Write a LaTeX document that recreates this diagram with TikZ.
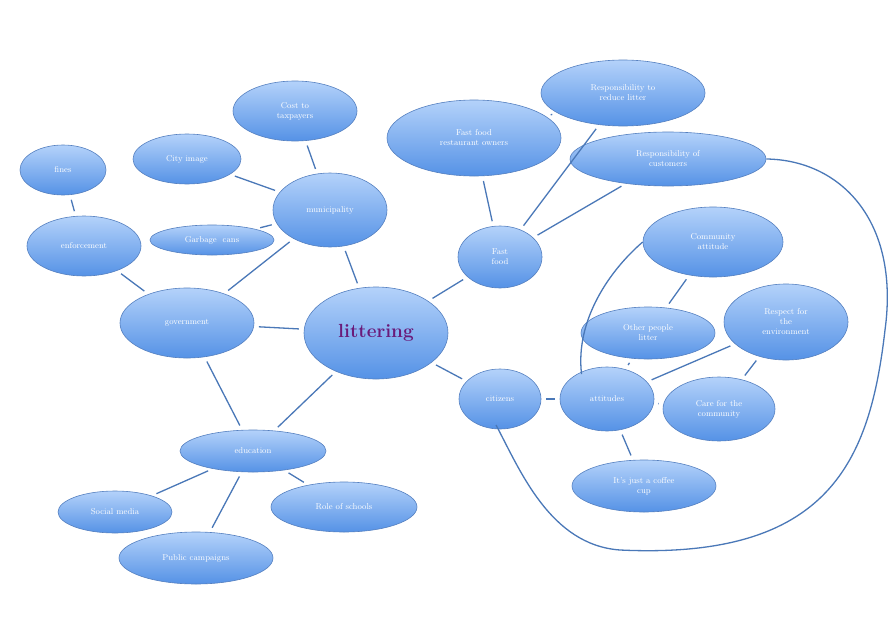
\documentclass[tikz,border=0pt]{standalone}
\usetikzlibrary{shapes.geometric}
\definecolor{topc}{HTML}{B4D2FA}
\definecolor{botc}{HTML}{5592E6}
\definecolor{edgec}{HTML}{5580C0}
\definecolor{linec}{HTML}{4A78B8}
\definecolor{purp}{HTML}{6A1B7A}
\tikzset{
  bub/.style={ellipse,draw=edgec,line width=0.6pt,top color=topc,bottom color=botc,
    inner sep=0pt,text=white,align=center,font=\fontsize{8.5}{10}\selectfont},
  link/.style={draw=linec,line width=1.3pt,shorten >=5pt,shorten <=5pt}
}
\newcommand\E[6]{\node[bub,minimum width=#4pt,minimum height=#5pt] (#1) at (#2,#3) {#6};}
\begin{document}
\begin{tikzpicture}[x=1pt,y=-1pt]
\useasboundingbox (0,0) rectangle (896,621);
\fill[white] (0,0) rectangle (896,621);
\E{fines}{63}{170}{86}{50}{fines}
\E{enf}{84}{246}{114}{60}{enforcement}
\E{gov}{187}{323}{134}{70}{government}
\E{city}{187}{159}{108}{50}{City image}
\E{cost}{295}{111}{124}{60}{Cost to\\taxpayers}
\E{mun}{330}{210}{114}{74}{municipality}
\E{garb}{212}{240}{124}{30}{Garbage\ \ cans}
\node[bub,minimum width=144pt,minimum height=92pt,text=purp,font=\fontsize{19}{22}\selectfont\bfseries] (lit) at (376,333) {littering};
\E{edu}{253}{451}{146}{42}{education}
\E{soc}{115}{512}{114}{42}{Social media}
\E{pub}{196}{558}{154}{52}{Public campaigns}
\E{role}{344}{507}{146}{50}{Role of schools}
\E{ffo}{474}{138}{174}{76}{Fast food\\restaurant owners}
\E{rrl}{623}{93}{164}{66}{Responsibility to\\reduce litter}
\E{roc}{668}{159}{196}{54}{Responsibility of\\customers}
\E{ff}{500}{257}{84}{62}{Fast\\food}
\E{ca}{713}{242}{140}{70}{Community\\attitude}
\E{opl}{648}{333}{134}{52}{Other people\\litter}
\E{rfe}{786}{322}{124}{76}{Respect for\\the\\environment}
\E{cit}{500}{399}{82}{60}{citizens}
\E{att}{607}{399}{94}{64}{attitudes}
\E{cfc}{719}{409}{112}{64}{Care for the\\community}
\E{cup}{644}{486}{144}{52}{It's just a coffee\\cup}
\draw[link] (fines) -- (enf);
\draw[link] (enf) -- (gov);
\draw[link] (gov) -- (mun);
\draw[link] (gov) -- (lit);
\draw[link] (gov) -- (edu);
\draw[link] (city) -- (mun);
\draw[link] (cost) -- (mun);
\draw[link] (garb) -- (mun);
\draw[link] (mun) -- (lit);
\draw[link] (lit) -- (edu);
\draw[link] (edu) -- (soc);
\draw[link] (edu) -- (pub);
\draw[link] (edu) -- (role);
\draw[link] (lit) -- (ff);
\draw[link] (ff) -- (ffo);
\draw[link] (ff) -- (rrl);
\draw[link] (ff) -- (roc);
\draw[link] (ffo) -- (rrl);
\draw[link] (lit) -- (cit);
\draw[link] (cit) -- (att);
\draw[link] (att) -- (cfc);
\draw[link] (att) -- (rfe);
\draw[link] (att) -- (opl);
\draw[link] (opl) -- (ca);
\draw[link] (att) -- (cup);
\draw[link] (rfe) -- (cfc);
\draw[draw=linec,line width=1.3pt] (att.north west) ++(8,-2) coordinate (a1)
  .. controls (575,320) and (610,270) .. (ca.west);
\draw[draw=linec,line width=1.3pt] (roc.east)
  .. controls (840,160) and (900,220) .. (885,330)
  .. controls (870,460) and (830,560) .. (620,550)
  .. controls (550,545) and (520,470) .. (496,425);
\end{tikzpicture}
\end{document}
